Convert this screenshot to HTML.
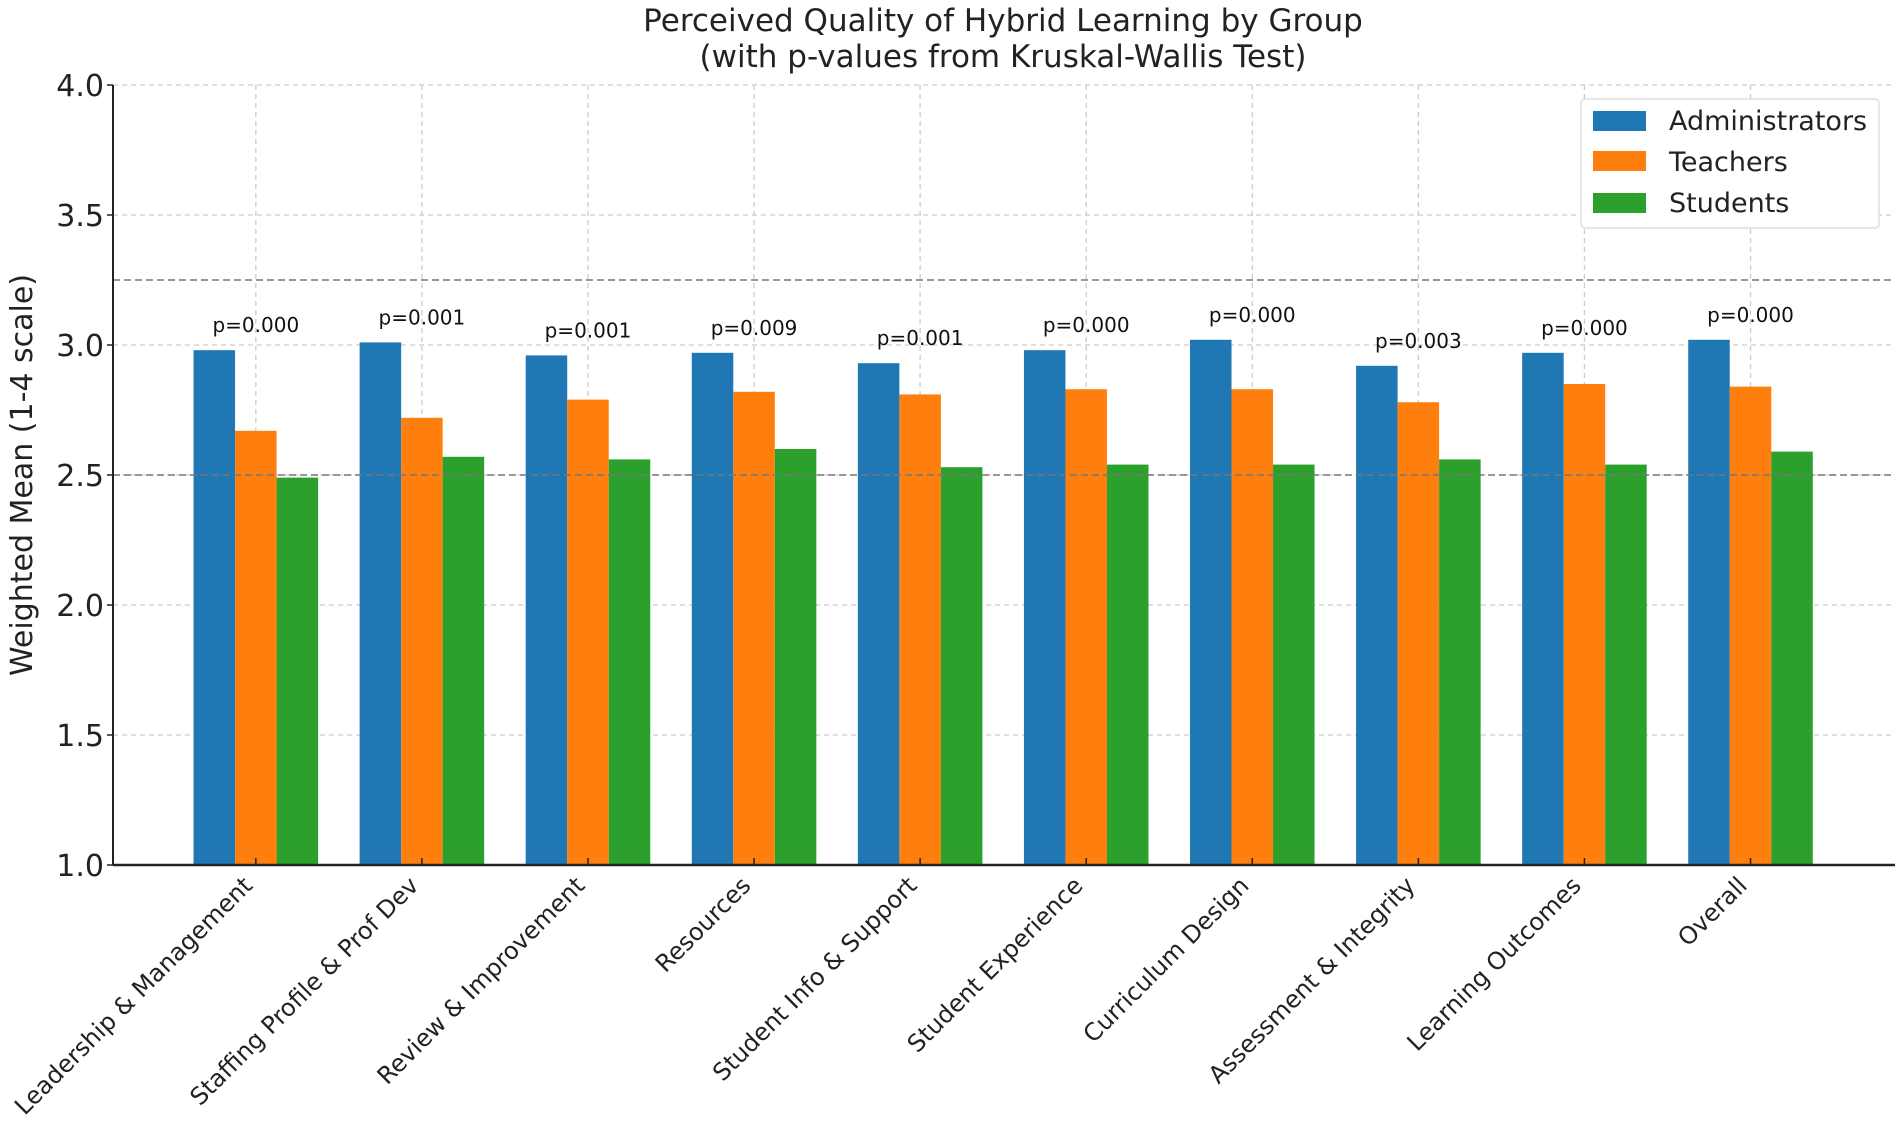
<!DOCTYPE html>
<html><head><meta charset="utf-8"><style>
html,body{margin:0;padding:0;background:#fff;}
svg{display:block;font-family:"DejaVu Sans","Liberation Sans",sans-serif;}
</style></head><body>
<svg id="chart" width="1902" height="1128" viewBox="0 0 1902 1128">
<g>
<text x="1003" y="31" font-size="31" text-anchor="middle" fill="#222">Perceived Quality of Hybrid Learning by Group</text>
<text x="1003" y="67" font-size="31" text-anchor="middle" fill="#222">(with p-values from Kruskal-Wallis Test)</text>
</g>
<g id="grid"></g>
<g id="bars"></g>
<g id="axes"></g>
<text transform="translate(32,475) rotate(-90)" font-size="30" text-anchor="middle" fill="#222">Weighted Mean (1-4 scale)</text>
<g>
<rect x="1581" y="99" width="298" height="129" rx="4" fill="#fff" stroke="#ddd" stroke-width="1.5"/>
<g><rect x="1593" y="111" width="53" height="20" fill="#1f77b4"/><text x="1669" y="130" font-size="27" fill="#222">Administrators</text></g>
<g><rect x="1593" y="151" width="53" height="20" fill="#ff7f0e"/><text x="1669" y="171" font-size="27" fill="#222">Teachers</text></g>
<g><rect x="1593" y="193" width="53" height="20" fill="#2ca02c"/><text x="1669" y="212" font-size="27" fill="#222">Students</text></g>
</g>
</svg>
<script>
const categories=["Leadership & Management","Staffing Profile & Prof Dev","Review & Improvement","Resources","Student Info & Support","Student Experience","Curriculum Design","Assessment & Integrity","Learning Outcomes","Overall"];
const administrators=[2.98,3.01,2.96,2.97,2.93,2.98,3.02,2.92,2.97,3.02];
const teachers=[2.67,2.72,2.79,2.82,2.81,2.83,2.83,2.78,2.85,2.84];
const students=[2.49,2.57,2.56,2.60,2.53,2.54,2.54,2.56,2.54,2.59];
const pValues=["p=0.000","p=0.001","p=0.001","p=0.009","p=0.001","p=0.000","p=0.000","p=0.003","p=0.000","p=0.000"];
const yTicks=[1.0,1.5,2.0,2.5,3.0,3.5,4.0];
const refLines=[3.25,2.5];

const NS="http://www.w3.org/2000/svg";
const L=113,R=1895,T=85,B=865,xmin=-0.86,xmax=9.87,ymin=1,ymax=4;
const xs=v=>L+(v-xmin)/(xmax-xmin)*(R-L);
const ys=v=>B-(v-ymin)/(ymax-ymin)*(B-T);
function mk(tag,attrs,parent){const e=document.createElementNS(NS,tag);for(const k in attrs)e.setAttribute(k,attrs[k]);parent.appendChild(e);return e;}
const grid=document.getElementById('grid'),bars=document.getElementById('bars'),axes=document.getElementById('axes');
yTicks.forEach(t=>{
  const l=mk('line',{x1:L,x2:R,y1:ys(t),y2:ys(t),stroke:'#ccc','stroke-width':1.3,'stroke-dasharray':'5,4'},grid);
  
  
  const tk=mk('line',{x1:L-6,x2:L,y1:ys(t),y2:ys(t),stroke:'#222','stroke-width':1.5},axes);
  
  
  const tx=mk('text',{x:L-9,y:ys(t)+11,'font-size':30,'text-anchor':'end',fill:'#222'},axes);
  tx.textContent=t.toFixed(1);
  
  
});
categories.forEach((c,i)=>{
  const l=mk('line',{x1:xs(i),x2:xs(i),y1:T,y2:B,stroke:'#ccc','stroke-width':1.3,'stroke-dasharray':'5,4'},grid);
  
  
});
const series=[[administrators,'#1f77b4','administrators'],[teachers,'#ff7f0e','teachers'],[students,'#2ca02c','students']];
const bw=0.25;
series.forEach(([vals,col,nm],s)=>{
  vals.forEach((v,i)=>{
    const x0=xs(i+(s-1)*bw-bw/2),x1=xs(i+(s-1)*bw+bw/2);
    const r=mk('rect',{x:x0,y:ys(v),width:x1-x0,height:ys(ymin)-ys(v),fill:col},bars);
    
    
  });
});
refLines.forEach(v=>{
  const l=mk('line',{x1:L,x2:R,y1:ys(v),y2:ys(v),stroke:'#777','stroke-width':1.6,'stroke-dasharray':'7,4'},bars);
  
  
});
categories.forEach((c,i)=>{
  const m=Math.max(administrators[i],teachers[i],students[i]);
  const p=mk('text',{x:xs(i),y:ys(m)-18,'font-size':20,'text-anchor':'middle',fill:'#111'},bars);
  p.textContent=pValues[i];
  
  
  const tk=mk('line',{x1:xs(i),x2:xs(i),y1:B,y2:B-7,stroke:'#222','stroke-width':1.5},axes);
  
  
  const tx=mk('text',{'font-size':24,'text-anchor':'end',fill:'#222',transform:`translate(${xs(i)-2},${B+22}) rotate(-45)`},axes);
  tx.textContent=c;
  
  
});
const ya=mk('line',{x1:L,x2:L,y1:T,y2:B,stroke:'#222','stroke-width':2},axes);


const xa=mk('line',{x1:L,x2:R,y1:B,y2:B,stroke:'#222','stroke-width':2.5},axes);


</script>
</body></html>
